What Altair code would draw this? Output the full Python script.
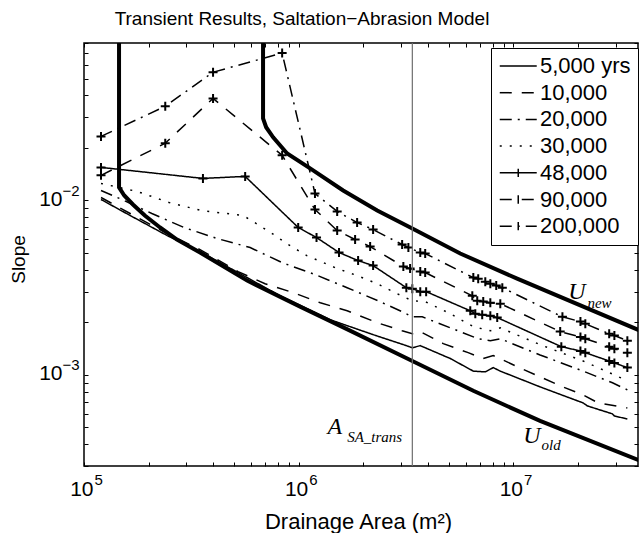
import altair as alt
import pandas as pd

# ---------------- data ----------------
TITLE = "Transient Results, Saltation−Abrasion Model"
SERIES = ["5,000 yrs", "10,000", "20,000", "30,000", "48,000", "90,000", "200,000"]
DASHES = [[1, 0], [12, 10], [12, 6, 2, 6], [2, 8], [1, 0], [12, 10], [12, 6, 2, 6]]
MARKED = ["48,000", "90,000", "200,000"]

A_5K = [1.20e5, 1.64e5, 2.44e5, 3.47e5, 5.33e5, 8.19e5, 1.40e6, 2.22e6, 3.07e6, 3.38e6, 3.68e6,
        5.08e6, 6.50e6, 7.39e6, 8.05e6, 8.68e6, 1.33e7, 2.11e7, 2.21e7, 2.89e7, 2.95e7, 3.39e7]
S_5K = [0.01013, 0.0082, 0.00629, 0.0051, 0.0038, 0.00284, 0.00207, 0.0017, 0.00149, 0.00143, 0.00147,
        0.00124, 0.00105, 0.00104, 0.0011, 0.00105, 0.000853, 0.00069, 0.000663, 0.000597, 0.000581, 0.000558]

A_10K = [1.20e5, 1.64e5, 2.44e5, 3.47e5, 5.22e5, 6.97e5, 9.42e5, 1.26e6, 1.68e6, 2.32e6, 3.03e6,
         3.38e6, 3.68e6, 4.71e6, 6.15e6, 7.23e6, 8.05e6, 1.10e7, 1.65e7, 2.11e7, 2.48e7, 3.39e7]
S_10K = [0.0104, 0.00842, 0.00646, 0.00523, 0.00391, 0.00333, 0.00296, 0.00259, 0.00233, 0.00199, 0.00179,
         0.00172, 0.00177, 0.00151, 0.00134, 0.00124, 0.00129, 0.00108, 0.000865, 0.000767, 0.00069, 0.000646]

A_20K = [1.20e5, 1.50e5, 2.07e5, 2.92e5, 4.17e5, 5.94e5, 8.37e5, 1.19e6, 1.68e6, 2.34e6, 3.03e6,
         3.38e6, 3.76e6, 5.08e6, 6.85e6, 7.80e6, 8.68e6, 1.33e7, 2.11e7, 2.89e7, 3.39e7]
S_20K = [0.01141, 0.01013, 0.00842, 0.0070, 0.00605, 0.00537, 0.0044, 0.00376, 0.00316, 0.00266, 0.0023,
         0.00215, 0.00215, 0.00186, 0.00161, 0.00157, 0.00161, 0.0013, 0.00105, 0.0009, 0.00082]

A_30K = [1.20e5, 1.77e5, 2.49e5, 3.51e5, 5.51e5, 6.13e5, 7.52e5, 8.93e5, 1.09e6, 1.51e6, 1.87e6, 2.32e6,
         2.87e6, 3.38e6, 3.88e6, 5.08e6, 6.50e6, 7.80e6, 8.68e6, 1.33e7, 2.11e7, 2.89e7, 3.39e7]
S_30K = [0.01252, 0.01126, 0.00974, 0.00876, 0.0082, 0.00757, 0.00646, 0.00559, 0.00483, 0.00407, 0.00371, 0.00333,
         0.00292, 0.00266, 0.00263, 0.00224, 0.00189, 0.00179, 0.00186, 0.00149, 0.0012, 0.00101, 0.000924]

A_48K = [1.20e5, 3.58e5, 5.63e5, 9.94e5, 1.21e6, 1.54e6, 1.89e6, 2.22e6, 3.17e6, 3.38e6, 3.68e6, 3.92e6,
         6.29e6, 6.64e6, 7.15e6, 7.80e6, 8.40e6, 1.67e7, 2.05e7, 2.16e7, 2.79e7, 2.95e7, 3.39e7]
S_48K = [0.01548, 0.01338, 0.01374, 0.0070, 0.00613, 0.00503, 0.00452, 0.00423, 0.00316, 0.00312, 0.0030, 0.0030,
         0.00233, 0.00224, 0.00221, 0.00218, 0.00213, 0.00145, 0.00137, 0.00134, 0.0012, 0.00117, 0.0011]

A_90K = [1.20e5, 2.39e5, 3.99e5, 8.37e5, 1.19e6, 1.51e6, 1.83e6, 2.15e6, 3.07e6, 3.30e6, 3.68e6, 3.88e6,
         6.43e6, 6.78e6, 7.23e6, 7.80e6, 8.68e6, 1.65e7, 2.05e7, 2.16e7, 2.79e7, 2.95e7, 3.39e7]
S_90K = [0.01393, 0.0213, 0.0385, 0.01814, 0.00888, 0.00672, 0.00597, 0.00544, 0.00418, 0.00407, 0.00391, 0.00386,
         0.00284, 0.00266, 0.00263, 0.00259, 0.00256, 0.00177, 0.00165, 0.00161, 0.00145, 0.00141, 0.00134]

A_200K = [1.20e5, 2.39e5, 3.99e5, 8.37e5, 1.19e6, 1.51e6, 1.87e6, 2.22e6, 3.03e6, 3.24e6, 3.68e6, 3.88e6,
          6.50e6, 6.85e6, 7.39e6, 7.80e6, 8.31e6, 8.87e6, 1.69e7, 2.05e7, 2.16e7, 2.79e7, 2.95e7, 3.39e7]
S_200K = [0.0233, 0.0347, 0.0544, 0.0700, 0.01097, 0.00865, 0.00747, 0.00681, 0.00559, 0.00537, 0.00503, 0.00496,
          0.00361, 0.00356, 0.00342, 0.00333, 0.00325, 0.00316, 0.00215, 0.00202, 0.00196, 0.00172, 0.00168, 0.00157]

# steady-state curves (thick); both rise vertically to the top of the frame
A_UOLD = [1.456e5, 1.456e5, 1.54e5, 1.69e5, 1.92e5, 2.26e5, 2.71e5, 3.47e5, 5.75e5, 1.015e6, 1.56e6,
          3.38e6, 6.50e6, 1.33e7, 3.90e7]
S_UOLD = [0.08, 0.01188, 0.01068, 0.00948, 0.0082, 0.0070, 0.00597, 0.00503, 0.00347, 0.00246, 0.00191,
          0.0012, 0.00081, 0.000544, 0.000321]
A_UNEW = [6.82e5, 6.82e5, 7.05e5, 7.60e5, 8.83e5, 1.13e6, 1.61e6, 2.32e6, 3.38e6, 5.65e6, 1.04e7, 3.90e7]
S_UNEW = [0.08, 0.0296, 0.0263, 0.0230, 0.0186, 0.01527, 0.01141, 0.00876, 0.00691, 0.00496, 0.00356, 0.00179]

A_TRANS = 3.38e6

BIG_TEXT = ["U", "U", "A"]
BIG_AREA = [1.80e7, 1.11e7, 1.36e6]
BIG_SLOPE = [0.00274, 0.000407, 0.000458]
SUB_TEXT = ["new", "old", "SA_trans"]
SUB_AREA = [2.21e7, 1.35e7, 1.68e6]
SUB_SLOPE = [0.00243, 0.000371, 0.000412]

X_TICKS = [1e5, 2e5, 3e5, 4e5, 5e5, 6e5, 7e5, 8e5, 9e5,
           1e6, 2e6, 3e6, 4e6, 5e6, 6e6, 7e6, 8e6, 9e6,
           1e7, 2e7, 3e7]
Y_TICKS = [3e-4, 4e-4, 5e-4, 6e-4, 7e-4, 8e-4, 9e-4,
           1e-3, 2e-3, 3e-3, 4e-3, 5e-3, 6e-3, 7e-3, 8e-3, 9e-3,
           1e-2, 2e-2, 3e-2, 4e-2, 5e-2, 6e-2, 7e-2, 8e-2]
X_MAJOR = [1e5, 1e6, 1e7]
Y_MAJOR = [1e-2, 1e-3]

# ---------------- tables ----------------
series_data = {
    "5,000 yrs": (A_5K, S_5K), "10,000": (A_10K, S_10K), "20,000": (A_20K, S_20K),
    "30,000": (A_30K, S_30K), "48,000": (A_48K, S_48K), "90,000": (A_90K, S_90K),
    "200,000": (A_200K, S_200K),
}
rows = []
for name, (a, s) in series_data.items():
    for i, (ai, si) in enumerate(zip(a, s)):
        rows.append({"series": name, "area": ai, "slope": si, "idx": i})
df = pd.DataFrame(rows)
df_marked = df[df["series"].isin(MARKED)]

trows = []
for name, (a, s) in {"U_old": (A_UOLD, S_UOLD), "U_new": (A_UNEW, S_UNEW)}.items():
    for i, (ai, si) in enumerate(zip(a, s)):
        trows.append({"curve": name, "area": ai, "slope": si, "idx": i})
dft = pd.DataFrame(trows)

big_df = pd.DataFrame({"t": BIG_TEXT, "area": BIG_AREA, "slope": BIG_SLOPE})
sub_df = pd.DataFrame({"t": SUB_TEXT, "area": SUB_AREA, "slope": SUB_SLOPE})
leg_df = pd.DataFrame({"series": SERIES})
title_df = pd.DataFrame({"t": [TITLE]})

SANS = "Liberation Sans"
SERIF = "Liberation Serif"

xs = alt.Scale(type="log", domain=[1e5, 3.8e7], nice=False)
ys = alt.Scale(type="log", domain=[3e-4, 8e-2], nice=False)
dash_scale = alt.Scale(domain=SERIES, range=DASHES)
shape_scale = alt.Scale(domain=SERIES, range=[
    "M-1,0H3" if s not in MARKED else "M-1,0H3M1,-0.45V0.45" for s in SERIES])

tick_common = dict(tickSize=4, tickColor="black", tickWidth=1, offset=-4, domain=False, grid=False)

x_axis_main = alt.Axis(
    orient="bottom", values=X_TICKS, **tick_common,
    labelExpr="datum.value == 100000 || datum.value == 1000000 || datum.value == 10000000 ? '10' : ''",
    labelFont=SANS, labelFontSize=21, labelColor="black", labelPadding=12,
    labelAlign="right", labelOffset=9, labelFlush=False, labelOverlap=False,
    title="Drainage Area (m²)", titleFont=SANS, titleFontSize=22, titleFontWeight="normal",
    titleColor="black", titleX=274, titleY=66, titleBaseline="alphabetic", titleAlign="center",
)
y_axis_main = alt.Axis(
    orient="left", values=Y_TICKS, **tick_common,
    labelExpr="datum.value == 0.01 || datum.value == 0.001 ? '10' : ''",
    labelFont=SANS, labelFontSize=21, labelColor="black", labelPadding=22,
    labelAlign="right", labelBaseline="middle", labelOffset=-1, labelFlush=False, labelOverlap=False,
    title="Slope", titleFont=SANS, titleFontSize=19, titleFontWeight="normal",
    titleColor="black", titleX=-64, titleY=216, titleBaseline="alphabetic", titleAlign="center", titleAngle=270,
)
x_axis_exp = alt.Axis(
    orient="bottom", values=X_MAJOR, ticks=False, domain=False, grid=False, offset=-4,
    labelExpr="datum.value == 100000 ? '5' : datum.value == 1000000 ? '6' : '7'",
    labelFont=SANS, labelFontSize=15, labelColor="black", labelPadding=10,
    labelAlign="left", labelOffset=10, labelFlush=False, labelOverlap=False, title=None,
)
y_axis_exp = alt.Axis(
    orient="left", values=Y_MAJOR, ticks=False, domain=False, grid=False, offset=-4,
    labelExpr="datum.value == 0.01 ? '−2' : '−3'",
    labelFont=SANS, labelFontSize=15, labelColor="black", labelPadding=26,
    labelAlign="left", labelBaseline="middle", labelOffset=-10, labelFlush=False, labelOverlap=False, title=None,
)
x_axis_top = alt.Axis(orient="top", values=X_TICKS, labels=False, title=None, **tick_common)
y_axis_right = alt.Axis(orient="right", values=Y_TICKS, labels=False, title=None, **tick_common)

legend = alt.Legend(
    title=None, orient="none", legendX=407, legendY=5, padding=7,
    strokeColor="black", fillColor="white",
    labelFont=SANS, labelFontSize=22, labelColor="black", labelOffset=20, labelLimit=300,
    symbolSize=342, symbolStrokeWidth=1.5, symbolStrokeColor="black", symbolFillColor="transparent",
    rowPadding=4.7, zindex=5,
)

lines = alt.Chart(df).mark_line(color="black", strokeWidth=1.5, clip=True).encode(
    x=alt.X("area:Q", scale=xs, axis=x_axis_main),
    y=alt.Y("slope:Q", scale=ys, axis=y_axis_main),
    strokeDash=alt.StrokeDash("series:N", scale=dash_scale),
    order=alt.Order("idx:Q"),
)

thick = alt.Chart(dft).mark_line(color="black", strokeWidth=4, clip=True).encode(
    x=alt.X("area:Q", scale=xs, axis=x_axis_exp),
    y=alt.Y("slope:Q", scale=ys, axis=y_axis_exp),
    detail="curve:N",
    order=alt.Order("idx:Q"),
)

markers = alt.Chart(df_marked).mark_point(
    shape="M-1,0H1M0,-1V1", size=81, filled=False, color="black", strokeWidth=2, opacity=1, clip=True
).encode(
    x=alt.X("area:Q", scale=xs, axis=x_axis_top),
    y=alt.Y("slope:Q", scale=ys, axis=y_axis_right),
)

rule = alt.Chart(pd.DataFrame({"area": [A_TRANS]})).mark_rule(color="#6e6e6e", strokeWidth=1.2).encode(
    x=alt.X("area:Q", scale=xs, axis=None),
)

big = alt.Chart(big_df).mark_text(
    align="left", baseline="alphabetic", font=SERIF, fontStyle="italic", fontSize=24, color="black"
).encode(
    x=alt.X("area:Q", scale=xs, axis=None), y=alt.Y("slope:Q", scale=ys, axis=None), text="t:N",
)
sub = alt.Chart(sub_df).mark_text(
    align="left", baseline="alphabetic", font=SERIF, fontStyle="italic", fontSize=15, color="black"
).encode(
    x=alt.X("area:Q", scale=xs, axis=None), y=alt.Y("slope:Q", scale=ys, axis=None), text="t:N",
)

# chart title, placed above the frame
title = alt.Chart(title_df).mark_text(
    align="center", baseline="alphabetic", font=SANS, fontSize=19, color="black"
).encode(x=alt.value(218), y=alt.value(-18), text="t:N")

# legend carrier: sits hidden underneath the (white-filled) legend box
helper = alt.Chart(leg_df).mark_point(
    filled=False, clip=True, color="black", strokeWidth=1.5, size=342, opacity=1
).encode(
    x=alt.value(470), y=alt.value(100),
    strokeDash=alt.StrokeDash("series:N", scale=dash_scale, legend=legend),
    shape=alt.Shape("series:N", scale=shape_scale, legend=legend),
)

chart = alt.layer(lines, thick, markers, rule, big, sub, title, helper).resolve_axis(
    x="independent", y="independent"
).properties(
    width=554, height=423,
    padding={"left": 84, "top": 43, "right": 2, "bottom": 67},
    autosize=alt.AutoSizeParams(type="none"),
    background="white",
).configure_view(stroke="black", strokeWidth=1.5)

chart.save("out.html", embed_options={"renderer": "svg", "actions": False})
